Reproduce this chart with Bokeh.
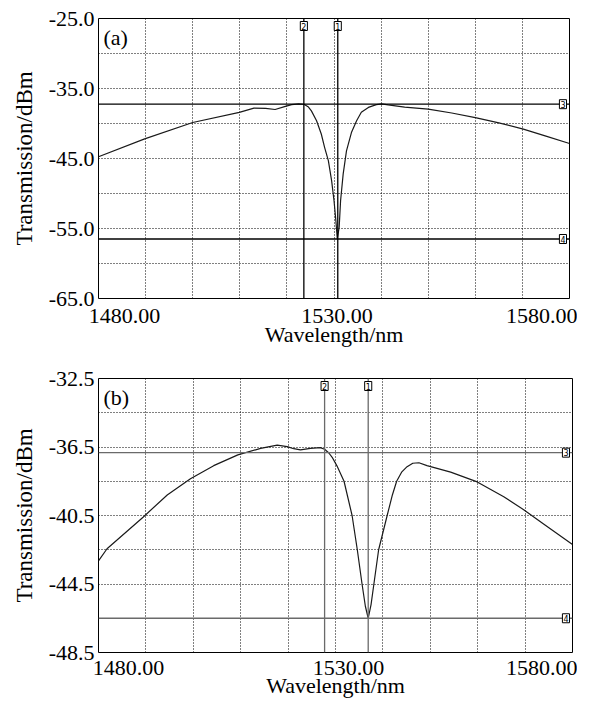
from bokeh.plotting import figure
from bokeh.models import Range1d, FixedTicker, NumeralTickFormatter, Span, Label
from bokeh.layouts import column
from bokeh.embed import file_html
from bokeh.resources import INLINE

FONT = "'Liberation Serif', 'Times New Roman', Times, serif"

# ---------------- data ----------------
# panel (a)
wl_a = [1480.0, 1489.8, 1500.0, 1509.9, 1513.0, 1515.5, 1517.5, 1519.5, 1521.0, 1522.5,
        1523.6, 1524.5, 1525.2, 1526.3, 1527.3, 1528.0, 1528.8, 1529.5, 1530.0, 1530.4, 1530.7,
        1531.1, 1531.4, 1531.95, 1532.65, 1533.7, 1534.8, 1535.8, 1537.3, 1539.0, 1540.1,
        1541.5, 1545.0, 1550.0, 1555.0, 1560.0, 1565.0, 1570.2, 1575.0, 1580.0]
tr_a = [-44.75, -42.2, -39.86, -38.4, -37.8, -37.85, -38.0, -37.6, -37.3, -37.2,
        -37.25, -37.6, -38.2, -39.6, -41.5, -43.4, -45.3, -48.2, -51.0, -53.9, -56.5,
        -54.8, -51.0, -47.2, -43.9, -41.3, -39.6, -38.4, -37.7, -37.3, -37.2,
        -37.35, -37.65, -37.95, -38.5, -39.15, -39.9, -40.8, -41.8, -42.85]
markers_v_a = [1530.8, 1523.6]       # markers 1, 2
markers_h_a = [-37.24, -56.5]        # markers 3, 4

# panel (b)
wl_b = [1480.0, 1481.8, 1489.4, 1494.5, 1499.4, 1504.3, 1509.4, 1514.2, 1517.7, 1519.8,
        1521.2, 1522.6, 1524.7, 1526.8, 1527.7, 1528.6, 1529.3, 1530.3, 1531.8, 1533.5,
        1534.6, 1535.6, 1536.3, 1536.9, 1537.5, 1538.1, 1539.1, 1540.9, 1542.0, 1542.9,
        1544.0, 1545.1, 1546.3, 1547.6, 1549.3, 1554.3, 1559.9, 1565.5, 1569.7, 1573.9, 1580.0]
tr_b = [-43.15, -42.44, -40.6, -39.3, -38.35, -37.59, -36.96, -36.58, -36.39, -36.48,
        -36.6, -36.67, -36.58, -36.54, -36.63, -36.85, -37.1, -37.6, -38.5, -40.5,
        -42.5, -44.5, -45.8, -46.5, -45.7, -44.5, -42.5, -40.5, -39.3, -38.5,
        -37.95, -37.65, -37.45, -37.42, -37.59, -37.97, -38.54, -39.4, -40.16, -41.0, -42.2]
markers_v_b = [1536.9, 1527.7]
markers_h_b = [-36.83, -46.5]

x_ticks = [1480, 1530, 1580]
x_tick_labels = ["1480.00", "1530.00", "1580.00"]
x_grid = [1490, 1500, 1510, 1520, 1530, 1540, 1550, 1560, 1570]

y_ticks_a = [-65.0, -55.0, -45.0, -35.0, -25.0]
y_grid_a = [-60, -55, -50, -45, -40, -35, -30]
y_ticks_b = [-48.5, -44.5, -40.5, -36.5, -32.5]
y_grid_b = [-46.5, -44.5, -42.5, -40.5, -38.5, -36.5, -34.5]


def panel(wl, tr, yr, y_ticks, y_grid, mv, mh, tag, geom, tick_dx, mark_color,
          tick_standoff, xlab_standoff):
    left, fw, right, top, fh, bottom = geom
    p = figure(output_backend="svg", toolbar_location=None,
               x_range=Range1d(1480, 1580), y_range=Range1d(*yr),
               frame_width=fw, frame_height=fh,
               min_border_left=left, min_border_right=right,
               min_border_top=top, min_border_bottom=bottom)
    p.background_fill_color = "white"
    p.border_fill_color = "white"
    p.outline_line_color = "black"
    p.outline_line_width = 1

    # grid
    p.xgrid.ticker = FixedTicker(ticks=x_grid)
    p.ygrid.ticker = FixedTicker(ticks=y_grid)
    for g in (p.xgrid, p.ygrid):
        g.grid_line_color = "black"
        g.grid_line_dash = "1 2"
        g.grid_line_width = 1

    # y axis
    ya = p.yaxis[0]
    ya.ticker = FixedTicker(ticks=y_ticks)
    ya.formatter = NumeralTickFormatter(format="0.0")
    ya.axis_line_color = None
    ya.major_tick_line_color = None
    ya.minor_tick_line_color = None
    ya.major_tick_in = 0
    ya.major_tick_out = 0
    ya.major_label_standoff = 4
    ya.major_label_text_font = FONT
    ya.major_label_text_font_size = "22px"
    ya.major_label_text_color = "black"
    ya.axis_label = "Transmission/dBm"
    ya.axis_label_text_font = FONT
    ya.axis_label_text_font_size = "23px"
    ya.axis_label_text_font_style = "normal"
    ya.axis_label_text_color = "black"
    ya.axis_label_standoff = 9

    # x axis: OSA style start / center / stop labels, drawn slightly inward
    px_per_nm = fw / (1580 - 1480)
    pos = [t + dx / px_per_nm for t, dx in zip(x_ticks, tick_dx)]
    xa = p.xaxis[0]
    xa.ticker = FixedTicker(ticks=pos)
    xa.major_label_overrides = {v: s for v, s in zip(pos, x_tick_labels)}
    xa.axis_line_color = None
    xa.major_tick_line_color = None
    xa.minor_tick_line_color = None
    xa.major_tick_in = 0
    xa.major_tick_out = 0
    xa.major_label_standoff = tick_standoff
    xa.major_label_text_font = FONT
    xa.major_label_text_font_size = "22px"
    xa.major_label_text_color = "black"
    xa.axis_label = "Wavelength/nm"
    xa.axis_label_text_font = FONT
    xa.axis_label_text_font_size = "22px"
    xa.axis_label_text_font_style = "normal"
    xa.axis_label_text_color = "black"
    xa.axis_label_standoff = xlab_standoff

    # curve
    p.line(wl, tr, line_color="#1a1a1a", line_width=1.2)

    # markers
    for i, xv in enumerate(mv):
        p.add_layout(Span(location=xv, dimension="height", line_color=mark_color, line_width=1.3))
        p.add_layout(Label(x=xv, y=yr[1], y_offset=-3, text=str(i + 1),
                           text_align="center", text_baseline="top",
                           text_font="DejaVu Sans", text_font_size="8px", text_color="black",
                           border_line_color="black", border_line_width=1,
                           background_fill_color="white", padding=1))
    for i, yv in enumerate(mh):
        p.add_layout(Span(location=yv, dimension="width", line_color=mark_color, line_width=1.3))
        p.add_layout(Label(x=1580, y=yv, x_offset=-3, text=str(i + 3),
                           text_align="right", text_baseline="middle",
                           text_font="DejaVu Sans", text_font_size="8px", text_color="black",
                           border_line_color="black", border_line_width=1,
                           background_fill_color="white", padding=1))

    p.add_layout(Label(x=1480, y=yr[1], x_offset=5, y_offset=-6, text=tag,
                       text_align="left", text_baseline="top",
                       text_font=FONT, text_font_size="22px", text_color="black"))
    return p


pa = panel(wl_a, tr_a, (-65, -25), y_ticks_a, y_grid_a, markers_v_a, markers_h_a, "(a)",
           (97, 471, 9, 18, 280, 55), [26, 3, -25], "black", 10, -4)
pb = panel(wl_b, tr_b, (-48.5, -32.5), y_ticks_b, y_grid_b, markers_v_b, markers_h_b, "(b)",
           (98, 474, 5, 25, 274, 45), [30, 13, -28], "#6a6a6a", 8, -5)

layout = column(pa, pb, spacing=0)
open("out.html", "w").write(file_html(layout, INLINE))
